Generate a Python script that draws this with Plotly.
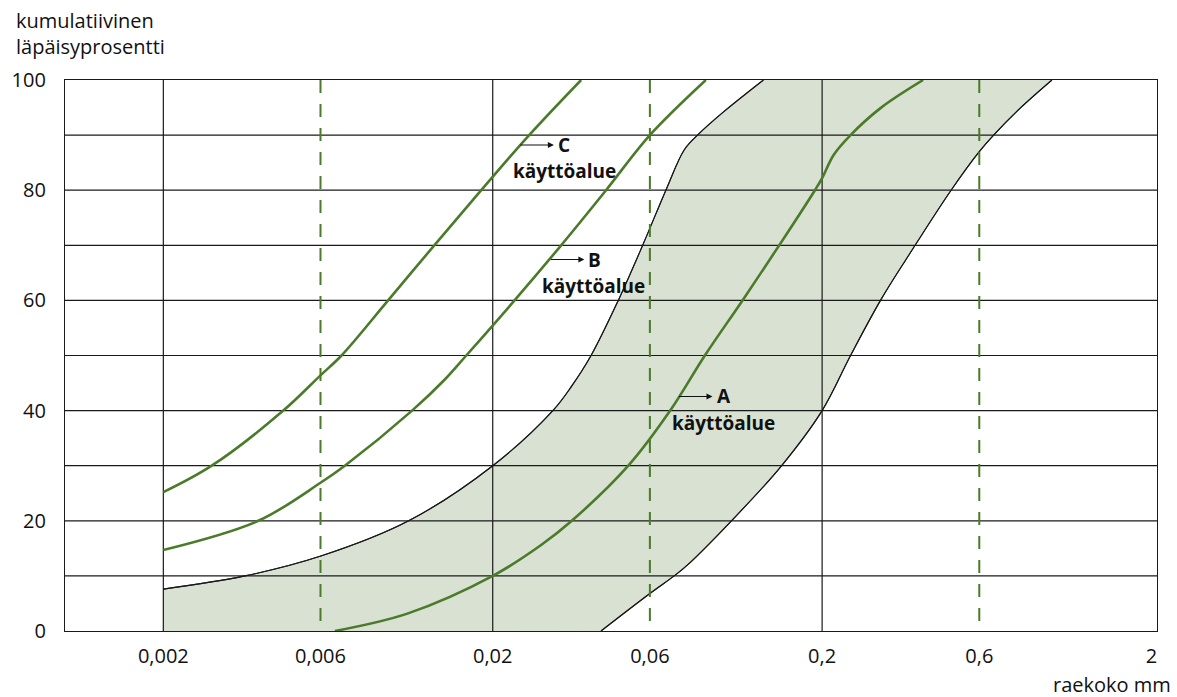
import numpy as np
import plotly.graph_objects as go

# Grading curves: grain size (mm) vs cumulative passing (%)
c_size = [0.002, 0.002805, 0.004627, 0.006, 0.00695, 0.009626, 0.013292, 0.018457,
          0.025803, 0.037098]
c_pass = [25.2, 30, 40, 46.4, 50, 60, 70, 80, 90, 100]

b_size = [0.002, 0.003886, 0.006, 0.007112, 0.01138, 0.014285, 0.016622, 0.023293,
          0.032262, 0.044157, 0.06, 0.088725]
b_pass = [14.7, 20, 26.9, 30, 40, 45.6, 50, 60, 70, 80, 90, 100]

a_size = [0.006633, 0.011067, 0.02, 0.028054, 0.03476, 0.051597,
          0.069149, 0.088108, 0.114627, 0.149694, 0.190206, 0.2, 0.216778,
          0.243988, 0.300822, 0.405134]
a_pass = [0, 3.2, 10, 15.6, 20, 30, 40, 50, 60, 70.4, 80, 82.2, 86.4,
          90, 94.9, 100]

# Shaded band: fine-side and coarse-side limits
low_size = [0.002, 0.003539, 0.006015, 0.011113, 0.02, 0.030449, 0.034591, 0.039771,
            0.048107, 0.057048, 0.067101, 0.076243, 0.083714, 0.100798, 0.132677]
low_pass = [7.6, 10, 13.6, 20, 30, 40, 44.3, 50, 60, 70, 80, 87.3, 90, 94.3, 100]

high_size = [0.042643, 0.06, 0.071109, 0.078087, 0.10613, 0.149694,
             0.2, 0.243988, 0.300822, 0.366499, 0.492683, 0.6, 0.663297, 0.798905, 0.9968]
high_pass = [0, 6.8, 10, 12, 20, 29.8, 40, 50, 60, 68.2, 80, 87, 90, 94.9, 100]

# Axis ticks and reference lines
tick_sizes = [0.002, 0.006, 0.02, 0.06, 0.2, 0.6, 2]
tick_labels = ["0,002", "0,006", "0,02", "0,06", "0,2", "0,6", "2"]
solid_sizes = [0.002, 0.02, 0.2]
dashed_sizes = [0.006, 0.06, 0.6]
grid_pass = [10, 20, 30, 40, 50, 60, 70, 80, 90]
y_ticks = [0, 20, 40, 60, 80, 100]
x_log_range = [-2.9975, 0.3177]

# Soil class names along the top
soil_names = ["saves", "hiesu", "hieta", "hiekka"]
soil_pos = [0.001416, 0.005797, 0.0598, 0.592]

# Curve labels: arrow tip, letter position, "käyttöalue" position
curve_names = ["C", "B", "A"]
arrow_tip_size = [0.030662, 0.037955, 0.092948]
letter_size = [0.031141, 0.038407, 0.094452]
letter_pass = [88.2, 67.42, 42.56]
text_size = [0.03293, 0.04047, 0.100589]
text_pass = [83.5, 62.7, 37.66]

GREEN = "#4b7b2a"
FILL = "#d8e1d2"
INK = "#1a1a1a"
FONT = "Open Sans"
FS = 20
FS_BOLD = 19

x_lo, x_hi = 10 ** x_log_range[0], 10 ** x_log_range[1]

fig = go.Figure()

# corner piece of the band under the start of the fine-side limit
fig.add_trace(go.Scatter(
    x=[low_size[0], low_size[0], high_size[0]], y=[0, low_pass[0], high_pass[0]],
    mode="lines", fill="toself", fillcolor=FILL, line=dict(color=FILL, width=1),
    hoverinfo="skip"))
# band limits, filled between
fig.add_trace(go.Scatter(
    x=low_size, y=low_pass, mode="lines",
    line=dict(color=INK, width=1.1, shape="spline", smoothing=1), hoverinfo="skip"))
fig.add_trace(go.Scatter(
    x=high_size, y=high_pass, mode="lines", fill="tonexty", fillcolor=FILL,
    line=dict(color=INK, width=1.1, shape="spline", smoothing=1), hoverinfo="skip"))

# horizontal grid
for p in grid_pass:
    fig.add_trace(go.Scatter(x=[x_lo, x_hi], y=[p, p], mode="lines",
                             line=dict(color=INK, width=1.2), hoverinfo="skip"))
# vertical solid lines
for s in solid_sizes:
    fig.add_trace(go.Scatter(x=[s, s], y=[0, 100], mode="lines",
                             line=dict(color=INK, width=1.2), hoverinfo="skip"))
# band limits again, above the grid
for xs, ys in [(low_size, low_pass), (high_size, high_pass)]:
    fig.add_trace(go.Scatter(
        x=xs, y=ys, mode="lines",
        line=dict(color=INK, width=1.1, shape="spline", smoothing=1), hoverinfo="skip"))
# dashed class limits
for s in dashed_sizes:
    fig.add_trace(go.Scatter(x=[s, s], y=[100, 0], mode="lines",
                             line=dict(color=GREEN, width=2, dash="13px,11px"),
                             hoverinfo="skip"))

# grading curves
for xs, ys in [(c_size, c_pass), (b_size, b_pass), (a_size, a_pass)]:
    fig.add_trace(go.Scatter(x=xs, y=ys, mode="lines",
                             line=dict(color=GREEN, width=2.6, shape="spline", smoothing=1),
                             hoverinfo="skip"))

annotations = []
for name, ts, ls, lp, xs, yp in zip(curve_names, arrow_tip_size, letter_size, letter_pass,
                                     text_size, text_pass):
    annotations.append(dict(x=np.log10(ts), y=lp, xref="x", yref="y", text="",
                            showarrow=True, ax=-35, ay=0, arrowhead=2, arrowsize=1,
                            arrowwidth=1.2, arrowcolor="#111"))
    annotations.append(dict(x=np.log10(ls), y=lp, xref="x", yref="y", text=f"<b>{name}</b>",
                            showarrow=False, xanchor="left", yanchor="middle",
                            font=dict(family=FONT, size=FS_BOLD, color="#111")))
    annotations.append(dict(x=np.log10(xs), y=yp, xref="x", yref="y", text="<b>käyttöalue</b>",
                            showarrow=False, xanchor="center", yanchor="middle",
                            font=dict(family=FONT, size=FS_BOLD, color="#111")))

for name, s in zip(soil_names, soil_pos):
    annotations.append(dict(x=np.log10(s), y=102.4, xref="x", yref="y",
                            text=f"<i>{name}</i>", showarrow=False,
                            xanchor="center", yanchor="middle",
                            font=dict(family=FONT, size=FS, color="#111")))

annotations.append(dict(x=-0.0467, y=1.0847, xref="paper", yref="paper",
                        text="kumulatiivinen<br>läpäisyprosentti", showarrow=False,
                        xanchor="left", yanchor="middle", align="left",
                        font=dict(family=FONT, size=FS, color="#111")))
annotations.append(dict(x=1.0146, y=-0.0962, xref="paper", yref="paper",
                        text="raekoko mm", showarrow=False,
                        xanchor="right", yanchor="middle",
                        font=dict(family=FONT, size=FS, color="#111")))

fig.update_layout(
    width=1177, height=697,
    margin=dict(l=63, r=20, t=80, b=66),
    paper_bgcolor="white", plot_bgcolor="white",
    showlegend=False,
    font=dict(family=FONT, size=FS, color="#111"),
    annotations=annotations,
    xaxis=dict(type="log", range=x_log_range,
               tickvals=tick_sizes, ticktext=tick_labels, showgrid=False, zeroline=False,
               showline=True, mirror=True, linecolor=INK, linewidth=1.3,
               ticks="", ticklabelstandoff=7),
    yaxis=dict(range=[0, 100], tickvals=y_ticks, showgrid=False, zeroline=False,
               showline=True, mirror=True, linecolor=INK, linewidth=1.3,
               ticks="", ticklabelstandoff=14),
)

fig.write_html("out.html")
